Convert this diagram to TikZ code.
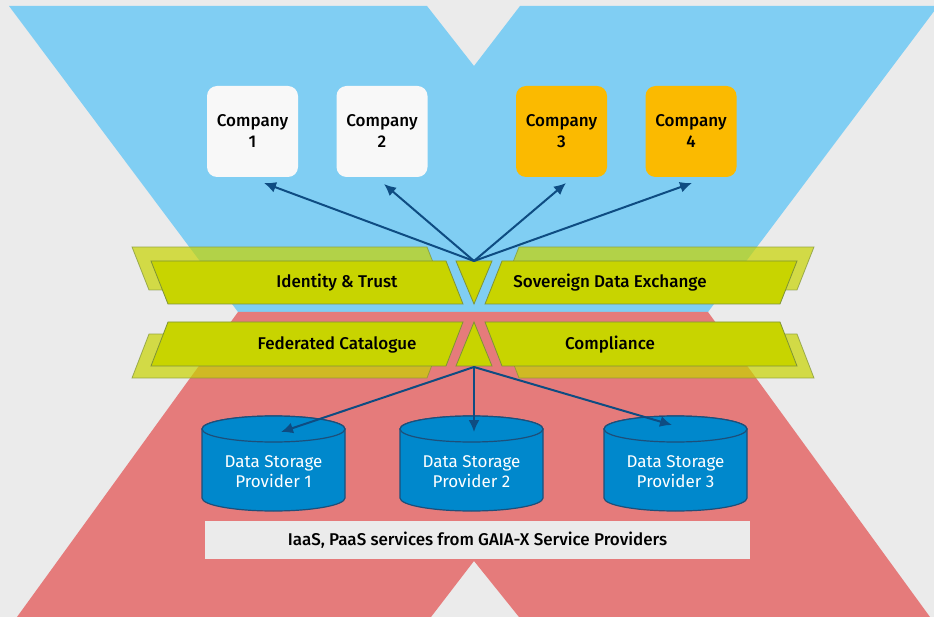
\documentclass[tikz,border=0pt]{standalone}
\usepackage{fontspec}
\setmainfont{Fira Sans}
\newfontfamily\medium{Fira Sans Medium}
\usetikzlibrary{arrows.meta}

\definecolor{bggray}{HTML}{EBEBEB}
\definecolor{xblue}{HTML}{80CEF3}
\definecolor{xred}{HTML}{E57B7B}
\definecolor{lime}{HTML}{C8D400}
\definecolor{limeedge}{HTML}{7E9337}
\definecolor{boxwhite}{HTML}{F8F8F8}
\definecolor{boxorange}{HTML}{FBBA00}
\definecolor{navy}{HTML}{0E4C82}
\definecolor{storeblue}{HTML}{0088CC}
\definecolor{storeedge}{HTML}{1D4F7A}

\tikzset{
  company/.style={rounded corners=10pt, minimum width=91pt, minimum height=91pt,
    align=center, font=\medium\fontsize{17}{21}\selectfont},
  layer/.style={fill=lime, draw=limeedge, line width=0.8pt},
  layerback/.style={fill=lime, draw=limeedge, line width=0.8pt, opacity=0.7},
  layertext/.style={font=\medium\fontsize{17}{20}\selectfont},
  storage/.style={fill=storeblue, draw=storeedge, line width=1.2pt},
  storetext/.style={white, align=center, font=\fontsize{17}{20}\selectfont},
  link/.style={navy, line width=2pt, -{Latex[length=12pt,width=11pt]}},
}

\begin{document}
\begin{tikzpicture}[x=1pt, y=-1pt]
  \useasboundingbox (0,0) rectangle (934,617);
  \fill[bggray] (0,0) rectangle (934,617);

  % the X
  \fill[xblue] (9,6) -- (427,6) -- (474,66) -- (520,6) -- (938,6) -- (708,312) -- (238,312) -- cycle;
  \fill[xred] (238,312) -- (708,312) -- (930,617) -- (519,617) -- (474,561) -- (431,617) -- (17,617) -- cycle;

  % layers behind
  \filldraw[layerback] (132,247) -- (427,247) -- (444,290) -- (149,290) -- cycle;
  \filldraw[layerback] (814,247) -- (519,247) -- (502,290) -- (797,290) -- cycle;
  \filldraw[layerback] (149,334) -- (444,334) -- (427,378) -- (132,378) -- cycle;
  \filldraw[layerback] (797,334) -- (502,334) -- (519,378) -- (814,378) -- cycle;

  % layers in front
  \filldraw[layer] (151,261) -- (446,261) -- (463,304) -- (168,304) -- cycle;
  \filldraw[layer] (456,261) -- (492,261) -- (474,304) -- cycle;
  \filldraw[layer] (797,261) -- (502,261) -- (485,304) -- (780,304) -- cycle;
  \filldraw[layer] (168,322) -- (463,322) -- (446,366) -- (151,366) -- cycle;
  \filldraw[layer] (474,322) -- (492,366) -- (456,366) -- cycle;
  \filldraw[layer] (780,322) -- (485,322) -- (502,366) -- (797,366) -- cycle;

  \node[layertext] (trust) at (337,283) {Identity \& Trust};
  \node[layertext] (exchange) at (610,283) {Sovereign Data Exchange};
  \node[layertext] (catalogue) at (337,345) {Federated Catalogue};
  \node[layertext] (compliance) at (610,345) {Compliance};

  \coordinate (hub) at (474,261);
  \coordinate (base) at (474,367);

  % companies
  \node[company, fill=boxwhite] (c1) at (252.5,131.5) {Company\\1};
  \node[company, fill=boxwhite] (c2) at (382,131.5) {Company\\2};
  \node[company, fill=boxorange] (c3) at (561.5,131.5) {Company\\3};
  \node[company, fill=boxorange] (c4) at (691,131.5) {Company\\4};

  \coordinate (t1) at (264,183);
  \coordinate (t2) at (384,184);
  \coordinate (t3) at (566,183);
  \coordinate (t4) at (692,183);
  \foreach \i in {1,2,3,4}
    \draw[link] (hub) -- (t\i);

  % data storage
  \foreach \n/\x in {1/273.5, 2/471.5, 3/675.5} {
    \filldraw[storage] (\x-71.5,429) -- (\x-71.5,498)
      arc[start angle=180, end angle=0, x radius=71.5, y radius=13]
      -- (\x+71.5,429)
      arc[start angle=0, end angle=-180, x radius=71.5, y radius=13] -- cycle;
    \draw[storage] (\x,429) ellipse[x radius=71.5, y radius=13];
    \node[storetext] (s\n) at (\x,472) {Data Storage\\Provider \n};
  }

  \coordinate (b1) at (281,432);
  \coordinate (b2) at (474,432);
  \coordinate (b3) at (672,425);
  \foreach \i in {1,2,3}
    \draw[link] (base) -- (b\i);

  \node[fill=bggray, minimum width=545pt, minimum height=38pt,
    font=\medium\fontsize{17}{20}\selectfont] (iaas) at (477.5,540)
    {IaaS, PaaS services from GAIA-X Service Providers};
\end{tikzpicture}
\end{document}
